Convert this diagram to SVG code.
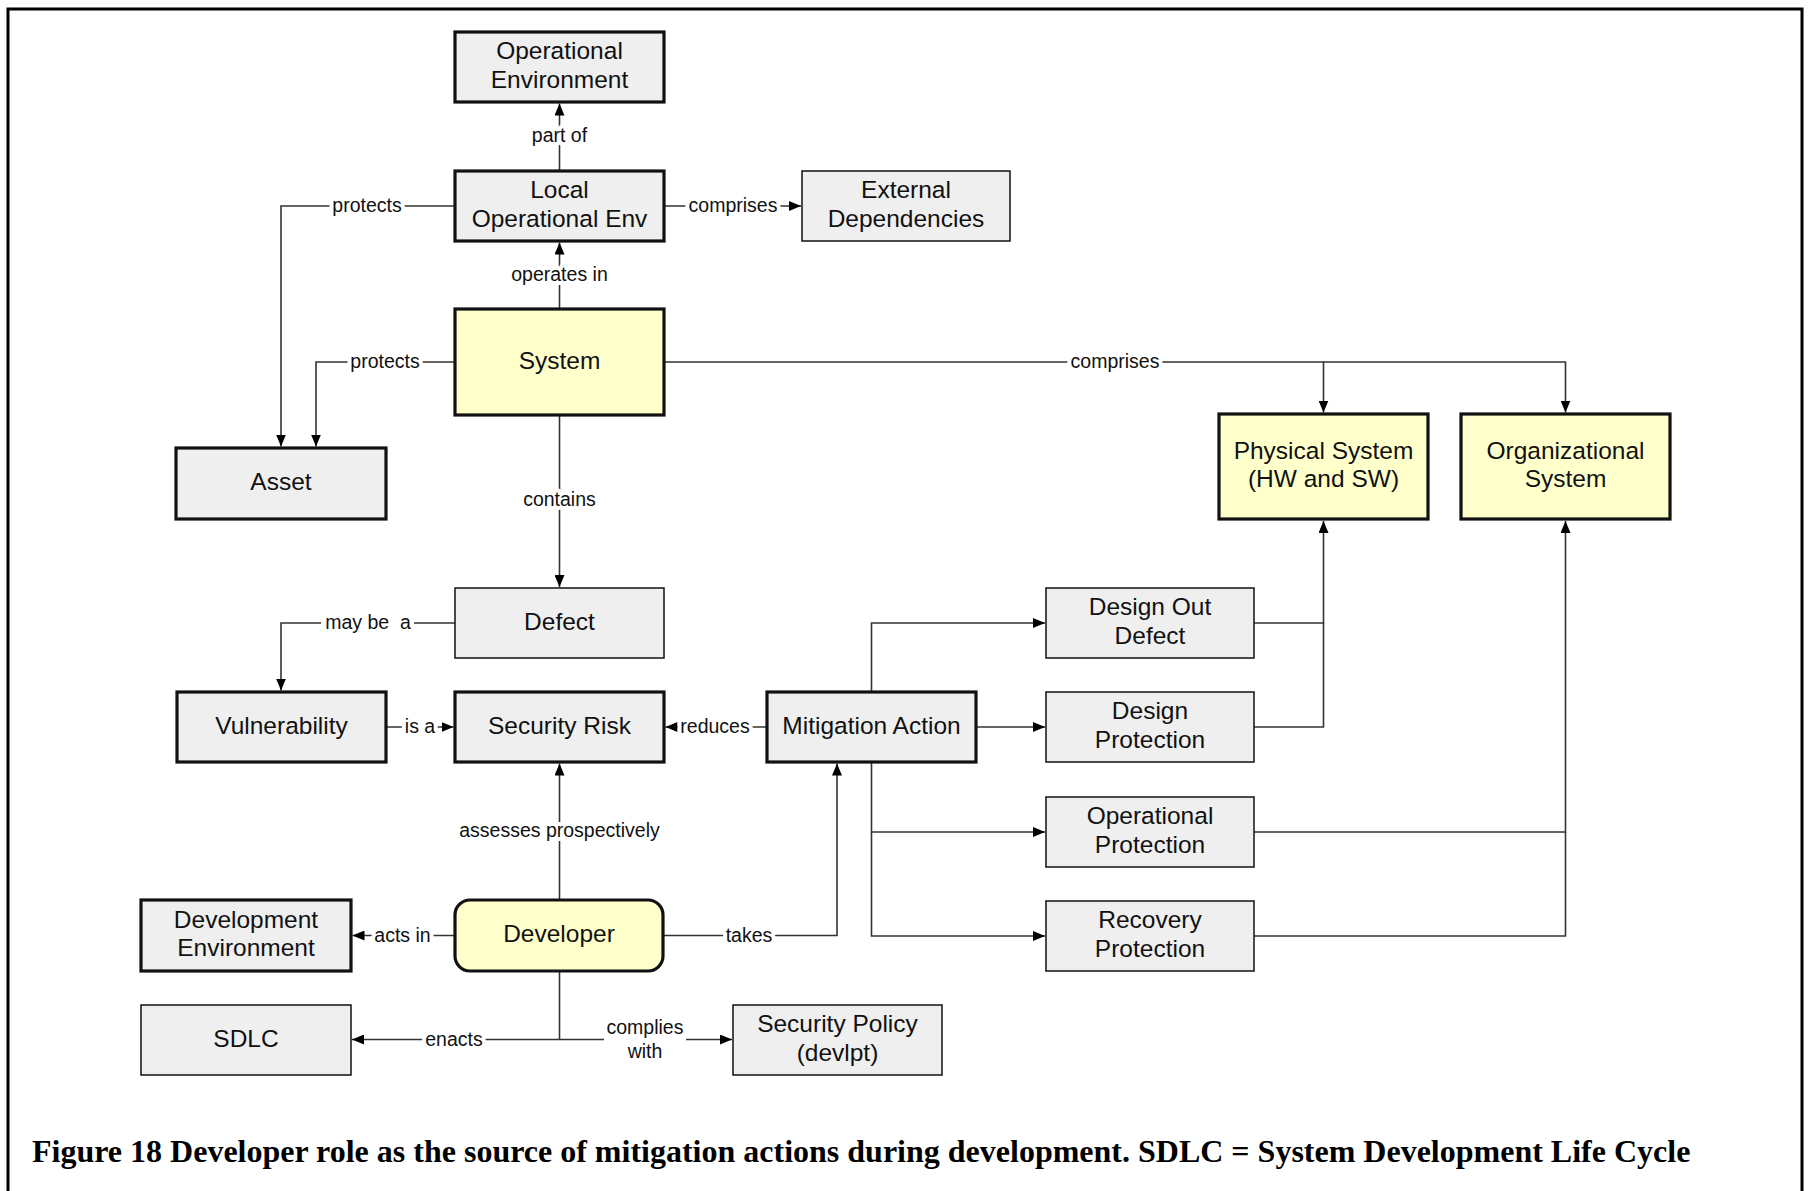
<svg xmlns="http://www.w3.org/2000/svg" width="1811" height="1191" viewBox="0 0 1811 1191">
  <style>
    .box { fill: #efefef; stroke: #111; stroke-width: 1.5; }
    .box.strong { stroke-width: 3.2; }
    .box.yellow { fill: #ffffcc; }
    .node-text { font-family: "Liberation Sans", Arial, sans-serif; font-size: 24.5px; fill: #111; text-anchor: middle; }
    .conn { fill: none; stroke: #333; stroke-width: 1.6; }
    .lbl { font-family: "Liberation Sans", Arial, sans-serif; font-size: 19.5px; fill: #111; text-anchor: middle; stroke: #fff; stroke-width: 8; paint-order: stroke; stroke-linejoin: round; white-space: pre; }
    .caption { font-family: "Liberation Serif", "Times New Roman", serif; font-weight: bold; font-size: 32px; fill: #000; }
  </style>
  <defs>
    <marker id="arrow" viewBox="0 0 12 10" refX="12" refY="5" markerWidth="12" markerHeight="10" markerUnits="userSpaceOnUse" orient="auto">
      <path d="M0,0 L12,5 L0,10 Z" fill="#000"/>
    </marker>
  </defs>

  <rect width="1811" height="1191" fill="#fff"/>
  <!-- outer frame (open at the bottom edge of the page) -->
  <rect x="8" y="9" width="1794" height="1210" fill="none" stroke="#000" stroke-width="3"/>

  <!-- connectors -->
  <g id="connectors">
    <path class="conn" d="M559.5,171 V103.5" marker-end="url(#arrow)"/>
    <path class="conn" d="M559.5,309 V242.5" marker-end="url(#arrow)"/>
    <path class="conn" d="M664,206 H801" marker-end="url(#arrow)"/>
    <path class="conn" d="M455,206 H281 V446.5" marker-end="url(#arrow)"/>
    <path class="conn" d="M455,362 H316 V446.5" marker-end="url(#arrow)"/>
    <path class="conn" d="M664,362 H1323.5 V412.5" marker-end="url(#arrow)"/>
    <path class="conn" d="M1323.5,362 H1565.5 V412.5" marker-end="url(#arrow)"/>
    <path class="conn" d="M559.5,415 V587" marker-end="url(#arrow)"/>
    <path class="conn" d="M455,623 H414 M321,623 H281 V690.5" marker-end="url(#arrow)"/>
    <path class="conn" d="M386,727 H453.5" marker-end="url(#arrow)"/>
    <path class="conn" d="M767,727 H665.5" marker-end="url(#arrow)"/>
    <path class="conn" d="M559.5,900 V763.5" marker-end="url(#arrow)"/>
    <path class="conn" d="M455,935.5 H352.5" marker-end="url(#arrow)"/>
    <path class="conn" d="M663,935.5 H837 V763.5" marker-end="url(#arrow)"/>
    <path class="conn" d="M559.5,971 V1039.5 H352" marker-end="url(#arrow)"/>
    <path class="conn" d="M559.5,1039.5 H604 M686,1039.5 H732" marker-end="url(#arrow)"/>
    <path class="conn" d="M871.5,692 V623 H1045" marker-end="url(#arrow)"/>
    <path class="conn" d="M976,727 H1045" marker-end="url(#arrow)"/>
    <path class="conn" d="M871.5,762 V832 H1045" marker-end="url(#arrow)"/>
    <path class="conn" d="M871.5,832 V936 H1045" marker-end="url(#arrow)"/>
    <path class="conn" d="M1254,623 H1323.5 V521" marker-end="url(#arrow)"/>
    <path class="conn" d="M1254,727 H1323.5 V623"/>
    <path class="conn" d="M1254,832 H1565.5 V521" marker-end="url(#arrow)"/>
    <path class="conn" d="M1254,936 H1565.5 V832"/>

    <text class="lbl" x="559.5" y="141.5">part of</text>
    <text class="lbl" x="559.5" y="280.5">operates in</text>
    <text class="lbl" x="733" y="212">comprises</text>
    <text class="lbl" x="367" y="212">protects</text>
    <text class="lbl" x="385" y="368">protects</text>
    <text class="lbl" x="1115" y="368">comprises</text>
    <text class="lbl" x="559.5" y="506">contains</text>
    <text class="lbl" x="368" y="629">may be  a</text>
    <text class="lbl" x="420" y="733">is a</text>
    <text class="lbl" x="715" y="733">reduces</text>
    <text class="lbl" x="559.5" y="837">assesses prospectively</text>
    <text class="lbl" x="402.5" y="941.5">acts in</text>
    <text class="lbl" x="749" y="941.5">takes</text>
    <text class="lbl" x="454" y="1045.5">enacts</text>
    <text class="lbl" x="645" y="1033.5">complies</text>
    <text class="lbl" x="645" y="1057.5">with</text>
  </g>

  <!-- nodes -->
  <g id="operational-environment">
    <rect class="box strong" x="455" y="32" width="209" height="70"/>
    <text class="node-text" x="559.5" y="59">Operational</text>
    <text class="node-text" x="559.5" y="87.5">Environment</text>
  </g>
  <g id="local-operational-env">
    <rect class="box strong" x="455" y="171" width="209" height="70"/>
    <text class="node-text" x="559.5" y="198">Local</text>
    <text class="node-text" x="559.5" y="226.5">Operational Env</text>
  </g>
  <g id="external-dependencies">
    <rect class="box" x="802" y="171" width="208" height="70"/>
    <text class="node-text" x="906" y="198">External</text>
    <text class="node-text" x="906" y="226.5">Dependencies</text>
  </g>
  <g id="system">
    <rect class="box strong yellow" x="455" y="309" width="209" height="106"/>
    <text class="node-text" x="559.5" y="368.5">System</text>
  </g>
  <g id="asset">
    <rect class="box strong" x="176" y="448" width="210" height="71"/>
    <text class="node-text" x="281" y="490">Asset</text>
  </g>
  <g id="defect">
    <rect class="box" x="455" y="588" width="209" height="70"/>
    <text class="node-text" x="559.5" y="629.5">Defect</text>
  </g>
  <g id="vulnerability">
    <rect class="box strong" x="177" y="692" width="209" height="70"/>
    <text class="node-text" x="281.5" y="733.5">Vulnerability</text>
  </g>
  <g id="security-risk">
    <rect class="box strong" x="455" y="692" width="209" height="70"/>
    <text class="node-text" x="559.5" y="733.5">Security Risk</text>
  </g>
  <g id="mitigation-action">
    <rect class="box strong" x="767" y="692" width="209" height="70"/>
    <text class="node-text" x="871.5" y="733.5">Mitigation Action</text>
  </g>
  <g id="design-out-defect">
    <rect class="box" x="1046" y="588" width="208" height="70"/>
    <text class="node-text" x="1150" y="615">Design Out</text>
    <text class="node-text" x="1150" y="643.5">Defect</text>
  </g>
  <g id="design-protection">
    <rect class="box" x="1046" y="692" width="208" height="70"/>
    <text class="node-text" x="1150" y="719">Design</text>
    <text class="node-text" x="1150" y="747.5">Protection</text>
  </g>
  <g id="operational-protection">
    <rect class="box" x="1046" y="797" width="208" height="70"/>
    <text class="node-text" x="1150" y="824">Operational</text>
    <text class="node-text" x="1150" y="852.5">Protection</text>
  </g>
  <g id="recovery-protection">
    <rect class="box" x="1046" y="901" width="208" height="70"/>
    <text class="node-text" x="1150" y="928">Recovery</text>
    <text class="node-text" x="1150" y="956.5">Protection</text>
  </g>
  <g id="physical-system">
    <rect class="box strong yellow" x="1219" y="414" width="209" height="105"/>
    <text class="node-text" x="1323.5" y="458.5">Physical System</text>
    <text class="node-text" x="1323.5" y="487">(HW and SW)</text>
  </g>
  <g id="organizational-system">
    <rect class="box strong yellow" x="1461" y="414" width="209" height="105"/>
    <text class="node-text" x="1565.5" y="458.5">Organizational</text>
    <text class="node-text" x="1565.5" y="487">System</text>
  </g>
  <g id="development-environment">
    <rect class="box strong" x="141" y="900" width="210" height="71"/>
    <text class="node-text" x="246" y="927.5">Development</text>
    <text class="node-text" x="246" y="956">Environment</text>
  </g>
  <g id="developer">
    <rect class="box strong yellow" x="455" y="900" width="208" height="71" rx="15" ry="15"/>
    <text class="node-text" x="559" y="942">Developer</text>
  </g>
  <g id="sdlc">
    <rect class="box" x="141" y="1005" width="210" height="70"/>
    <text class="node-text" x="246" y="1046.5">SDLC</text>
  </g>
  <g id="security-policy">
    <rect class="box" x="733" y="1005" width="209" height="70"/>
    <text class="node-text" x="837.5" y="1032">Security Policy</text>
    <text class="node-text" x="837.5" y="1060.5">(devlpt)</text>
  </g>

  <text class="caption" x="32" y="1162">Figure 18 Developer role as the source of mitigation actions during development. SDLC = System Development Life Cycle</text>
</svg>
